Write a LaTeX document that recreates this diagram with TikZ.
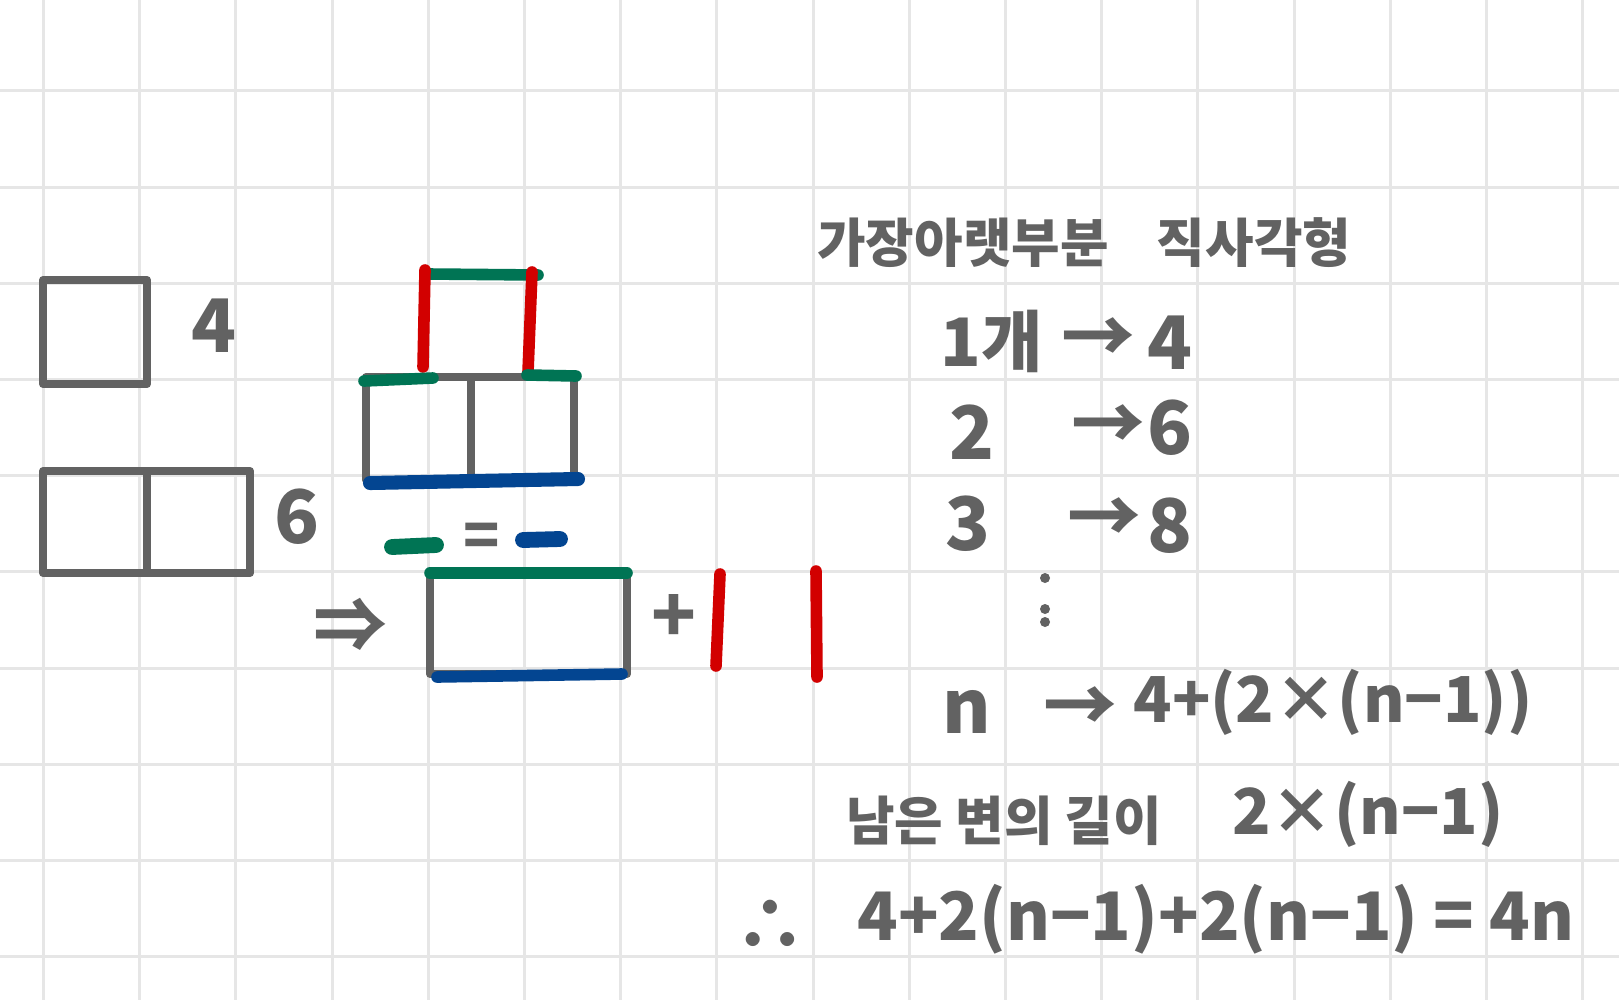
\documentclass[tikz,border=0pt]{standalone}
\usepackage{fontspec}
\newfontfamily\hand{Noto Sans CJK KR}
\definecolor{ink}{RGB}{98,98,98}
\definecolor{gridgray}{RGB}{230,230,230}
\definecolor{inkred}{RGB}{210,0,0}
\definecolor{inkgreen}{RGB}{0,116,84}
\definecolor{inkblue}{RGB}{3,69,145}
\begin{document}
\begin{tikzpicture}[x=0.01cm, y=-0.01cm,
    gridline/.style={draw=gridgray, line width=0.85pt},
    box/.style={draw=ink, line width=2.3pt, line join=round},
    penred/.style={draw=inkred, line width=3.3pt, line cap=round},
    pengreen/.style={draw=inkgreen, line width=3.3pt, line cap=round},
    penblue/.style={draw=inkblue, line width=3.3pt, line cap=round},
    txt/.style={text=ink, inner sep=0pt, font=\hand\bfseries\fontsize{21}{25}\selectfont},
    formula/.style={txt, font=\hand\bfseries\fontsize{18}{22}\selectfont},
    kor/.style={text=ink, inner sep=0pt, font=\hand\bfseries\fontsize{15}{18}\selectfont}]
    \useasboundingbox (0,0) rectangle (1619,1000);
    \fill[white] (0,0) rectangle (1619,1000);

    % graph paper
    \foreach \gx in {0,...,16} \draw[gridline] ({43.4+96.2*\gx},0) -- ++(0,1000);
    \foreach \gy in {0,...,9} \draw[gridline] (0,{90.9+96.2*\gy}) -- ++(1619,0);

    % one square and two squares
    \draw[box] (43,280) rectangle (147,384);
    \draw[box] (43,471) rectangle (250,573);
    \draw[box] (147,471) -- (147,573);
    \node[txt] (four) at (214,326) {4};
    \node[txt] (six) at (297,517) {6};

    % three squares, coloured sides
    \draw[box] (366,377) rectangle (574,480);
    \draw[box] (471,377) -- (471,480);
    \draw[pengreen] (428,274) -- (538,275); % top of upper square
    \draw[penred] (425,270) -- (423,367);
    \draw[penred] (532,272) -- (528,372);
    \draw[pengreen] (364,381) -- (433,378);
    \draw[pengreen] (527,375) -- (576,376);
    \draw[penblue, line width=4pt] (370,483) -- (578,479);

    % green = blue
    \draw[pengreen, line width=4.5pt] (392,547) -- (436,545);
    \node[txt, font=\hand\bfseries\fontsize{17}{20}\selectfont] (same) at (482,540) {=};
    \draw[penblue, line width=4.5pt] (523,540) -- (560,539);

    % rectangle plus two sides
    \node[txt] (then) at (350,625) {⇒};
    \draw[box] (430,573) rectangle (627,674);
    \draw[pengreen] (430,573) -- (627,573);
    \draw[penblue] (437,677) -- (622,674);
    \node[txt] (plus) at (674,618) {+};
    \draw[penred] (720,574) -- (716,666);
    \draw[penred] (816,571) -- (817,677);

    % table on the right
    \node[kor] (bottom) at (963,243) {가장아랫부분};
    \node[kor] (rect) at (1254,243) {직사각형};

    \node[txt, font=\hand\bfseries\fontsize{19}{23}\selectfont] (one) at (992,341) {1개};
    \node[txt] (arrA) at (1098,341) {→};
    \node[txt] (valA) at (1170,343) {4};
    \node[txt] (two) at (972,432) {2};
    \node[txt] (arrB) at (1108,428) {→};
    \node[txt] (valB) at (1170,428) {6};
    \node[txt] (three) at (968,524) {3};
    \node[txt] (arrC) at (1104,521) {→};
    \node[txt] (valC) at (1170,526) {8};
    \foreach \dy in {578,609,622} \fill[ink] (1045,\dy) circle (5);
    \node[txt] (enn) at (967,712) {n};
    \node[txt] (arrN) at (1080,710) {→};
    \node[formula] (valN) at (1333,702) {4+(2×(n−1))};

    \node[kor] (rest) at (1004,821) {남은 변의 길이};
    \node[formula] (restval) at (1368,814) {2×(n−1)};
    \node[txt] (so) at (770,926) {∴};
    \node[txt, font=\hand\bfseries\fontsize{19}{23}\selectfont] (total) at (1216,919) {4+2(n−1)+2(n−1) = 4n};
\end{tikzpicture}
\end{document}
